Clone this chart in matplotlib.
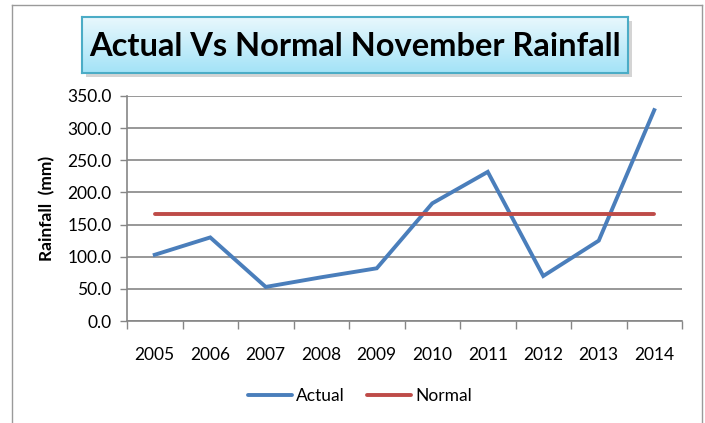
import numpy as np
import matplotlib.pyplot as plt
from matplotlib.patches import Rectangle
from matplotlib.lines import Line2D

plt.rcParams['font.family'] = ['Lato', 'DejaVu Sans']

years = ['2005', '2006', '2007', '2008', '2009', '2010', '2011', '2012', '2013', '2014']
actual = [103, 130, 53, 68, 82, 183, 232, 70, 125, 328]
normal = [167] * len(years)

W, H = 705, 423
fig = plt.figure(figsize=(W / 100, H / 100), dpi=100, facecolor='w')

# chart frame
for xs, ys in [((12, 12), (0, 418)), ((12, 702), (418, 418)), ((702, 702), (418, 0))]:
    fig.add_artist(Line2D([x / W for x in xs], [y / H for y in ys], color='#9a9a9a', lw=1.0))

# plot area
ax = fig.add_axes([127 / W, 1 - 321 / H, (682 - 127) / W, (321 - 96) / H])
x = np.arange(len(years))
ax.plot(x, actual, color='#4A7EBB', lw=2.8, solid_joinstyle='miter', label='Actual', zorder=3)
ax.plot(x, normal, color='#BE4B48', lw=2.8, solid_capstyle='round', label='Normal', zorder=3)

ax.set_xlim(-0.5, len(years) - 0.5)
ax.set_ylim(0, 350)
ax.set_yticks(np.arange(0, 351, 50))
ax.set_yticklabels([f'{v:.1f}' for v in np.arange(0, 351, 50)])
ax.set_xticks(np.arange(-0.5, len(years), 1))
ax.set_xticklabels([])
ax.set_xticks(x, minor=True)
ax.set_xticklabels(years, minor=True)
ax.tick_params(axis='x', which='major', length=6, color='#868686', width=1)
ax.tick_params(axis='x', which='minor', length=0, pad=19, labelsize=12.5)
ax.tick_params(axis='y', length=5, color='#868686', width=1, labelsize=12.5, pad=6)
ax.grid(axis='y', color='#868686', lw=1.2)
ax.set_axisbelow(True)
for s in ('top', 'right'):
    ax.spines[s].set_visible(False)
for s in ('left', 'bottom'):
    ax.spines[s].set_color('#868686')
    ax.spines[s].set_linewidth(1.2)

fig.text(47 / W, 1 - 208 / H, 'Rainfall  (mm)', rotation=90, ha='center', va='center',
         fontsize=12.5, fontweight='bold')

# legend
leg = fig.legend(loc='center', bbox_to_anchor=(360 / W, 1 - 396 / H), ncol=2, frameon=False,
                 fontsize=12.5, handlelength=2.5, columnspacing=1.3, handletextpad=0.25)
for h in leg.legend_handles:
    h.set_solid_capstyle('round')

# title box with gradient
tax = fig.add_axes([82 / W, 1 - 73 / H, (628 - 82) / W, (73 - 17) / H])
shadow = Rectangle(((82 + 4) / W, 1 - (73 + 4) / H), (628 - 82) / W, (73 - 17) / H,
                   transform=fig.transFigure, facecolor='#b8b8b8', edgecolor='none', alpha=0.6, zorder=0)
fig.add_artist(shadow)
grad = np.linspace(0, 1, 100).reshape(-1, 1)
top = np.array([0.91, 0.97, 0.99])
bot = np.array([0.64, 0.89, 0.97])
img = top + (bot - top) * grad[:, :, None]
tax.imshow(img, aspect='auto', extent=(0, 1, 0, 1), origin='upper')
tax.set_xticks([])
tax.set_yticks([])
for s in tax.spines.values():
    s.set_color('#4BACC6')
    s.set_linewidth(1.5)
tax.text(0.5, 0.47, 'Actual Vs Normal November Rainfall', ha='center', va='center',
         fontsize=23.5, fontweight='bold', transform=tax.transAxes)

fig.savefig('out.png', dpi=100)
